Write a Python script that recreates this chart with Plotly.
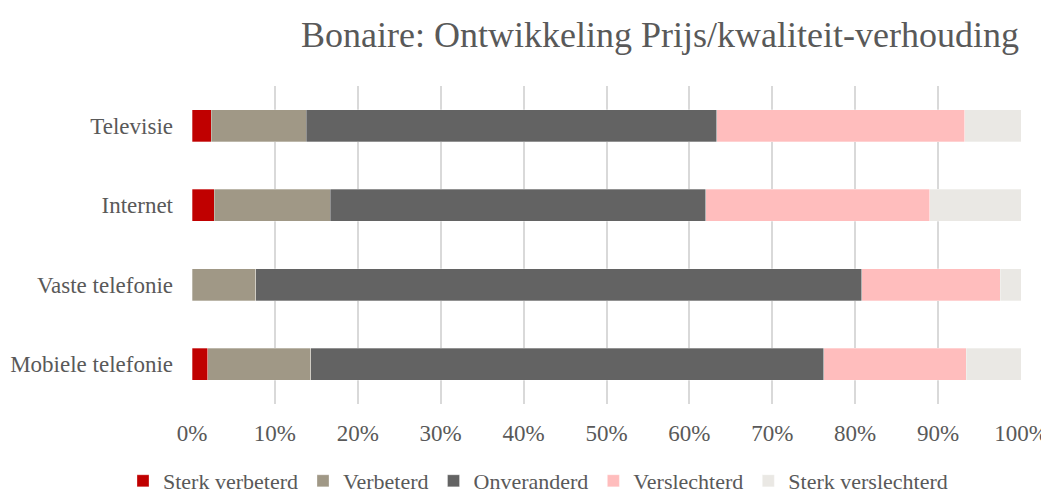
import plotly.graph_objects as go

categories = ["Televisie", "Internet", "Vaste telefonie", "Mobiele telefonie"]
series_names = ["Sterk verbeterd", "Verbeterd", "Onveranderd", "Verslechterd", "Sterk verslechterd"]
sterk_verbeterd = [2.3, 2.7, 0.0, 1.9]
verbeterd = [11.5, 14.0, 7.7, 12.4]
onveranderd = [49.5, 45.3, 73.1, 61.9]
verslechterd = [29.9, 27.0, 16.7, 17.2]
sterk_verslechterd = [6.8, 11.0, 2.5, 6.6]
tick_vals = [0, 10, 20, 30, 40, 50, 60, 70, 80, 90, 100]
tick_text = [f"{v}%" for v in tick_vals]

colors = ["#C00000", "#A09886", "#636363", "#FFBDBD", "#EAE8E4"]
series = [sterk_verbeterd, verbeterd, onveranderd, verslechterd, sterk_verslechterd]

# page body has an 8px margin; figure is sized/positioned to compensate
W, H = 1041, 485
font_family = "Liberation Serif, DejaVu Serif, serif"
fig = go.Figure()
for name, vals, col in zip(series_names, series, colors):
    fig.add_trace(go.Bar(
        y=categories, x=vals, name=name, orientation="h",
        marker=dict(color=col, line=dict(color="rgba(255,255,255,0.6)", width=0.5)),
    ))

fig.update_layout(
    barmode="stack",
    bargap=0.6,
    width=W, height=H,
    paper_bgcolor="white", plot_bgcolor="white",
    margin=dict(l=184, r=28, t=78, b=89, autoexpand=False),
    font=dict(family=font_family, color="#595959", size=20),
    title=dict(text="Bonaire: Ontwikkeling Prijs/kwaliteit-verhouding",
               x=652/W, xanchor="center", y=1-26/H, yanchor="middle",
               xref="container", yref="container",
               font=dict(size=36, color="#595959", family=font_family)),
    legend=dict(orientation="h", x=530/W, xanchor="center", y=12/H, yanchor="middle",
                xref="container", yref="container",
                font=dict(size=22, color="#595959"), traceorder="normal",
                tracegroupgap=0),
    xaxis=dict(range=[0, 100], tickvals=tick_vals, ticktext=tick_text, automargin=False,
               showgrid=True, gridcolor="#D9D9D9", gridwidth=1.5,
               zeroline=False, showline=False, ticks="", ticklabelstandoff=13,
               tickfont=dict(size=23, color="#595959")),
    yaxis=dict(categoryorder="array", categoryarray=categories, autorange="reversed",
               showgrid=False, zeroline=False, showline=False, ticks="", automargin=False,
               ticklabelstandoff=18, tickfont=dict(size=23, color="#595959")),
)

fig.write_html("out.html")
